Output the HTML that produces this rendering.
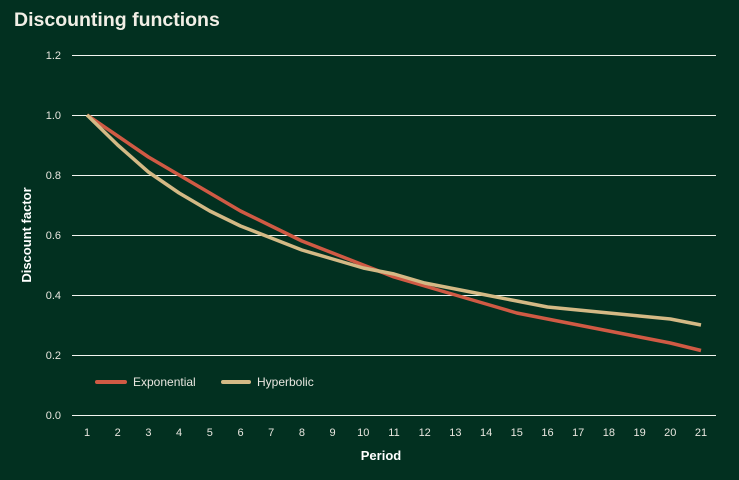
<!DOCTYPE html>
<html><head><meta charset="utf-8"><style>
html,body{margin:0;padding:0;background:#023020;}
svg{display:block;font-family:"Liberation Sans",sans-serif;}
</style></head><body>
<svg width="739" height="480">
<text x="14" y="26" fill="#f2efe6" font-size="19.5" font-weight="bold">Discounting functions</text>
<g id="grid"></g>
<g id="series"></g>
<text transform="translate(31,235) rotate(-90)" text-anchor="middle" fill="#fff" font-size="13" font-weight="bold">Discount factor</text>
<text x="381" y="460" text-anchor="middle" fill="#fff" font-size="13" font-weight="bold">Period</text>
<g>
<line x1="97" y1="382" x2="125" y2="382" stroke="#d05a44" stroke-width="4" stroke-linecap="round"/>
<text x="133" y="386" fill="#e8e6df" font-size="12">Exponential</text>
<line x1="223" y1="382" x2="249" y2="382" stroke="#d4b985" stroke-width="4" stroke-linecap="round"/>
<text x="257" y="386" fill="#e8e6df" font-size="12">Hyperbolic</text>
</g>
</svg>
<script>
const periods=[1,2,3,4,5,6,7,8,9,10,11,12,13,14,15,16,17,18,19,20,21];
const exponential=[1,0.93,0.86,0.80,0.74,0.68,0.63,0.58,0.54,0.50,0.46,0.43,0.40,0.37,0.34,0.32,0.30,0.28,0.26,0.24,0.215];
const hyperbolic=[1,0.90,0.81,0.74,0.68,0.63,0.59,0.55,0.52,0.49,0.47,0.44,0.42,0.40,0.38,0.36,0.35,0.34,0.33,0.32,0.30];
const yTicks=[0,0.2,0.4,0.6,0.8,1.0,1.2];
const yTickLabels=["0.0","0.2","0.4","0.6","0.8","1.0","1.2"];
const NS="http://www.w3.org/2000/svg";
const xS=p=>87+(p-1)*(701-87)/20;
const yS=v=>415-v*300;
const grid=document.getElementById('grid'),ser=document.getElementById('series');
yTicks.forEach((t,i)=>{
 const l=document.createElementNS(NS,'line');
 const y=Math.round(yS(t))+0.5;
 l.setAttribute('x1',72);l.setAttribute('x2',716);l.setAttribute('y1',y);l.setAttribute('y2',y);
 l.setAttribute('stroke','#f2f5f0');l.setAttribute('stroke-width','1');
 
 
 grid.appendChild(l);
 const tx=document.createElementNS(NS,'text');
 tx.setAttribute('x',61);tx.setAttribute('y',yS(t)+4);tx.setAttribute('text-anchor','end');
 tx.setAttribute('fill','#e8e6df');tx.setAttribute('font-size','11');tx.textContent=yTickLabels[i];
 
 
 grid.appendChild(tx);
});
periods.forEach(p=>{
 const tx=document.createElementNS(NS,'text');
 tx.setAttribute('x',xS(p));tx.setAttribute('y',436);tx.setAttribute('text-anchor','middle');
 tx.setAttribute('fill','#e8e6df');tx.setAttribute('font-size','11');tx.textContent=p;
 
 
 grid.appendChild(tx);
});
function line(vals,color,name){
 const pl=document.createElementNS(NS,'polyline');
 pl.setAttribute('points',vals.map((v,i)=>xS(periods[i])+','+yS(v)).join(' '));
 pl.setAttribute('fill','none');pl.setAttribute('stroke',color);pl.setAttribute('stroke-width','3.5');
 pl.setAttribute('stroke-linejoin','round');
 
 
 ser.appendChild(pl);
}
line(exponential,'#d05a44','exponential-line');
line(hyperbolic,'#d4b985','hyperbolic-line');
</script>
</body></html>
